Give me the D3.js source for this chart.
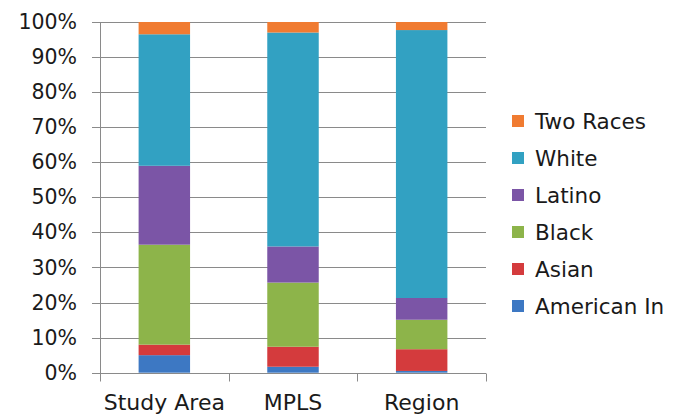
<!DOCTYPE html>
<html>
<head>
<meta charset="utf-8">
<script src="https://cdn.jsdelivr.net/npm/d3@7"></script>
<style>
  html, body { margin: 0; padding: 0; background: #fff; }
  svg { display: block; }
  text { font-family: "DejaVu Sans", sans-serif; fill: #1a1a1a; }
</style>
</head>
<body>
<svg id="chart" width="685" height="414"></svg>
<script>
// Share of population by race, per area (percent, stacked bottom to top)
const areas = ["Study Area", "MPLS", "Region"];
const races = ["American In", "Asian", "Black", "Latino", "White", "Two Races"];
const americanIn = [5.0, 1.7, 0.5];
const asian      = [3.0, 5.7, 6.2];
const black      = [28.5, 18.3, 8.4];
const latino     = [22.5, 10.3, 6.2];
const white      = [37.5, 61.0, 76.4];
const twoRaces   = [3.5, 3.0, 2.3];
const yTicks = [0, 10, 20, 30, 40, 50, 60, 70, 80, 90, 100];
const colors = ["#3d78c3", "#d43b3d", "#8db44a", "#7b55a6", "#32a1c2", "#f07b31"];

const seriesValues = [americanIn, asian, black, latino, white, twoRaces];
const rows = areas.map((a, i) => {
  const r = { area: a };
  races.forEach((k, j) => { r[k] = seriesValues[j][i]; });
  return r;
});

const svg = d3.select("#chart");
const m = { left: 100, right: 199, top: 22, bottom: 41.3 };
const W = 685, H = 414;

const x = d3.scaleBand().domain(areas).range([m.left, W - m.right]).paddingInner(0.6).paddingOuter(0.3);
const y = d3.scaleLinear().domain([0, 100]).range([H - m.bottom, m.top]);
const color = d3.scaleOrdinal().domain(races).range(colors);

// horizontal gridlines with outer ticks
svg.append("g")
  .selectAll("line")
  .data(yTicks)
  .join("line")
  .attr("x1", m.left - 8)
  .attr("x2", W - m.right)
  .attr("y1", d => Math.round(y(d)) + 0.5)
  .attr("y2", d => Math.round(y(d)) + 0.5)
  .attr("stroke", "#8a8a8a")
  .attr("stroke-width", 1);

// y-axis labels
const yAxis = d3.axisLeft(y).tickValues(yTicks).tickFormat(d => d + "%").tickSize(0).tickPadding(23);
const yg = svg.append("g").attr("transform", `translate(${m.left},0)`).call(yAxis);
yg.select(".domain").remove();
yg.selectAll("text").style("font-size", "20.5px").style("font-family", "DejaVu Sans, sans-serif").attr("fill", "#1a1a1a");

// stacked bars
const stack = d3.stack().keys(races);
const layers = stack(rows);
svg.append("g")
  .selectAll("g")
  .data(layers)
  .join("g")
  .attr("fill", d => color(d.key))
  .selectAll("rect")
  .data(d => d)
  .join("rect")
  .attr("x", d => x(d.data.area))
  .attr("width", x.bandwidth())
  .attr("y", d => y(d[1]))
  .attr("height", d => y(d[0]) - y(d[1]));

// axis lines
const y0 = Math.round(y(0)) + 0.5;
svg.append("line")
  .attr("x1", m.left + 0.5).attr("x2", m.left + 0.5)
  .attr("y1", y(100)).attr("y2", y0 + 8)
  .attr("stroke", "#8a8a8a");
svg.append("line")
  .attr("x1", m.left - 8).attr("x2", W - m.right)
  .attr("y1", y0).attr("y2", y0)
  .attr("stroke", "#8a8a8a");

// category boundary ticks
const bounds = areas.map((a, i) => m.left + (i + 1) * (W - m.right - m.left) / areas.length);
svg.append("g")
  .selectAll("line")
  .data(bounds)
  .join("line")
  .attr("x1", d => Math.round(d) + 0.5).attr("x2", d => Math.round(d) + 0.5)
  .attr("y1", y0).attr("y2", y0 + 8)
  .attr("stroke", "#8a8a8a");

// x-axis labels
const xAxis = d3.axisBottom(x).tickSize(0).tickPadding(21);
const xg = svg.append("g").attr("transform", `translate(0,${y0})`).call(xAxis);
xg.select(".domain").remove();
xg.selectAll("text").style("font-size", "22px").style("font-family", "DejaVu Sans, sans-serif").attr("fill", "#1a1a1a");

// legend, top entry is the top stack segment
const legendItems = races.slice().reverse();
const legend = svg.append("g").attr("transform", "translate(512,121)");
const li = legend.selectAll("g")
  .data(legendItems)
  .join("g")
  .attr("transform", (d, i) => `translate(0,${i * 37})`);
li.append("rect")
  .attr("x", 0).attr("y", -6)
  .attr("width", 12).attr("height", 12)
  .attr("fill", d => color(d));
li.append("text")
  .attr("x", 23).attr("y", 0)
  .attr("dy", "0.36em")
  .style("font-size", "21.5px")
  .text(d => d);
</script>
</body>
</html>
